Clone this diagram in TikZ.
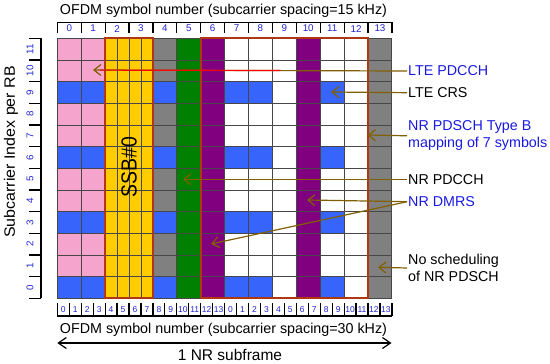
\documentclass[tikz,border=0pt]{standalone}
\usepackage{fontspec}
\setmainfont{Liberation Sans}
\usetikzlibrary{arrows.meta,calc}
\definecolor{cpink}{RGB}{245,165,205}
\definecolor{cblue}{RGB}{55,100,250}
\definecolor{cyel}{RGB}{255,204,0}
\definecolor{cgreen}{RGB}{0,128,0}
\definecolor{cpurp}{RGB}{128,0,128}
\definecolor{cgray}{RGB}{128,128,128}
\definecolor{cbord}{RGB}{175,55,20}
\definecolor{carr}{RGB}{128,96,0}
\definecolor{clab}{RGB}{25,25,225}
\definecolor{cnum}{RGB}{35,35,210}
\begin{document}
\begin{tikzpicture}[x=1pt,y=-1pt,
  gridl/.style={draw=black!72,line width=0.9pt},
  rul/.style={draw=black,line width=1.2pt},
  bord/.style={draw=cbord,line width=1.8pt},
  num/.style={text=cnum,font=\fontsize{9.8}{11}\selectfont,inner sep=0pt},
  snum/.style={text=cnum,font=\fontsize{8.5}{10}\selectfont,inner sep=0pt},
  ttl/.style={font=\fontsize{14.3}{17}\selectfont,inner sep=0pt},
  lab/.style={font=\fontsize{14.3}{16.7}\selectfont,anchor=west,inner sep=1pt},
  conn/.style={draw=carr,line width=1.2pt,-{Straight Barb[length=7pt,width=11pt]}}]
\useasboundingbox (0,0) rectangle (550,364);
\def\xo{57.3}\def\yo{38.3}\def\cw{23.9}\def\rh{21.667}
% column fills
\foreach \c/\col in {0/cpink,1/cpink,2/cyel,3/cyel,4/cgray,5/cgreen,6/cpurp,7/white,8/white,9/white,10/cpurp,11/white,12/white,13/cgray}
  \fill[\col] ({\xo+\c*\cw},\yo) rectangle ++(\cw,{12*\rh});
% LTE CRS
\foreach \c in {0,1,4,7,8,11}
  \foreach \s in {0,3,6,9}
    \fill[cblue] ({\xo+\c*\cw},{\yo+(11-\s)*\rh}) rectangle ++(\cw,\rh);
% grid
\foreach \r in {0,...,12}
  \draw[gridl] (\xo,{\yo+\r*\rh}) -- ({\xo+14*\cw},{\yo+\r*\rh});
\foreach \c in {0,...,14}
  \draw[gridl] ({\xo+\c*\cw},\yo) -- ++(0,{12*\rh});
\foreach \c in {2.5,3.5}
  \draw[gridl] ({\xo+\c*\cw},\yo) -- ++(0,{12*\rh});
% borders
\draw[bord] ({\xo+2*\cw},\yo) rectangle ({\xo+4*\cw},{\yo+12*\rh});
\draw[bord] ({\xo+6*\cw},\yo) rectangle ({\xo+13*\cw},{\yo+12*\rh});
% top ruler
\draw[rul] (\xo,22.3) -- ({\xo+14*\cw},22.3);
\foreach \c in {0,...,14}
  \draw[rul] ({\xo+\c*\cw},22.3) -- ++(0,11);
\foreach \c in {0,...,13}
  \node[num] (t\c) at ({\xo+(\c+0.5)*\cw},28.6) {\c};
% bottom ruler
\draw[rul] (\xo,316) -- ({\xo+14*\cw},316);
\foreach \c in {0,...,28}
  \draw[rul] ({\xo+\c*\cw/2},316) -- ++(0,-12.7);
\foreach \c in {0,...,27}{
  \pgfmathtruncatemacro\lab{mod(\c,14)}
  \node[snum] (b\c) at ({\xo+(\c+0.5)*\cw/2},309.8) {\lab};}
% left axis
\draw[rul] (41,\yo) -- (41,{\yo+12*\rh});
\foreach \r in {0,...,12}
  \draw[rul] (41,{\yo+\r*\rh}) -- (29,{\yo+\r*\rh});
\foreach \s in {0,...,11}
  \node[num,rotate=90] (s\s) at (30,{\yo+(11.5-\s)*\rh}) {\s};
% titles
\node[ttl,anchor=base] (ttop) at (223.5,15) {OFDM symbol number (subcarrier spacing=15 kHz)};
\node[ttl,anchor=base] (tbot) at (223.5,333) {OFDM symbol number (subcarrier spacing=30 kHz)};
\node[anchor=base,inner sep=0pt,font=\fontsize{15.5}{18}\selectfont] (sf) at (230,360) {1 NR subframe};
\coordinate (al) at (57.3,343);
\coordinate (ar) at (391.5,343);
\draw[line width=1.2pt,{Straight Barb[length=8pt,width=11pt]}-{Straight Barb[length=8pt,width=11pt]}] (al) -- (ar);
\node[rotate=90,inner sep=0pt,font=\fontsize{14.3}{17}\selectfont] (ylab) at (11,152) {\scalebox{1.12}[1.05]{Subcarrier Index per RB}};
\node[rotate=90,inner sep=0pt,font=\fontsize{19.5}{24}\selectfont] (ssb) at (129,167) {\scalebox{1}[1.12]{SSB\#0}};
% labels and connectors
\node[lab,text=clab] (lPDCCH) at (407,71) {LTE PDCCH};
\coordinate (tPDCCH) at (93,70);
\coordinate (rA) at (100,70.1);
\coordinate (rB) at (280,70.5);
\draw[conn] (lPDCCH.west) -- (tPDCCH);
\draw[red,line width=1.2pt] (rA) -- (rB);
\node[lab] (lCRS) at (407,92.7) {LTE CRS};
\coordinate (tCRS) at (331,92);
\draw[conn] (lCRS.west) -- (tCRS);
\node[lab,text=clab,align=left] (lPDSCH) at (407,135.8) {NR PDSCH Type B\\mapping of 7 symbols};
\coordinate (tPDSCH) at (367.5,135);
\draw[conn] (lPDSCH.west) -- (tPDSCH);
\node[lab] (lNRP) at (407,179.3) {NR PDCCH};
\coordinate (tNRP) at (183,179.3);
\draw[conn] (lNRP.west) -- (tNRP);
\node[lab,text=clab] (lDM) at (407,201.7) {NR DMRS};
\coordinate (tDMa) at (307,200);
\coordinate (tDMb) at (211,244);
\draw[conn] (lDM.west) -- (tDMa);
\draw[conn] (lDM.west) -- (tDMb);
\node[lab,align=left,font=\fontsize{14.3}{17.2}\selectfont] (lNS) at (407,268) {No scheduling\\of NR PDSCH};
\coordinate (tNS) at (378,267.3);
\draw[conn] (lNS.west) -- (tNS);
\end{tikzpicture}
\end{document}
